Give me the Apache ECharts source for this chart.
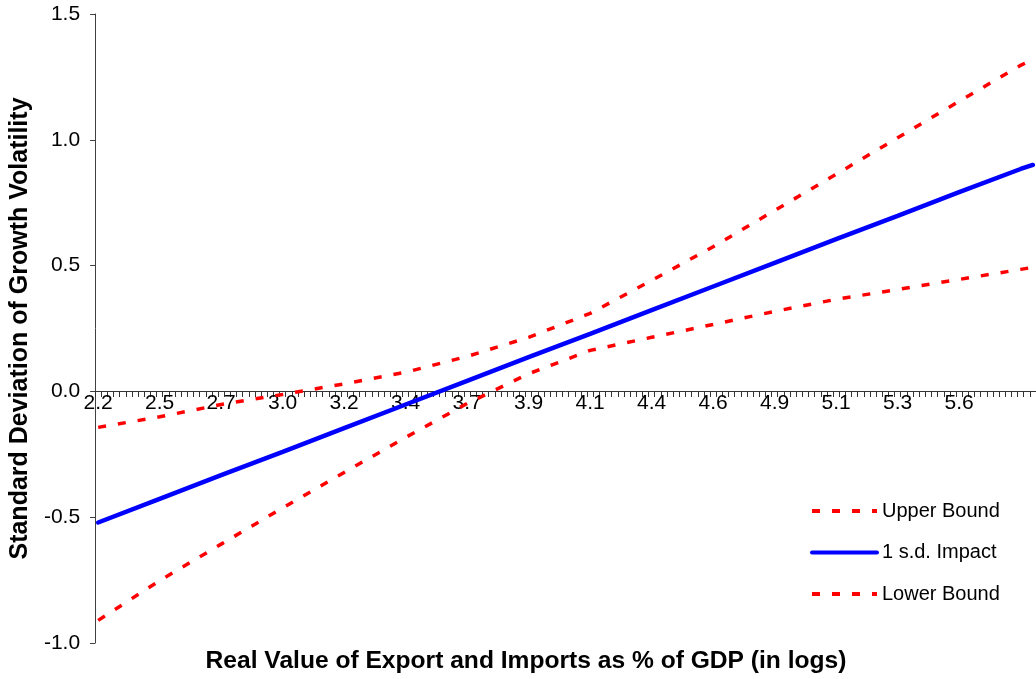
<!DOCTYPE html>
<html>
<head>
<meta charset="utf-8">
<script src="https://cdn.jsdelivr.net/npm/echarts@6/dist/echarts.min.js"></script>
<style>
  html, body { margin: 0; padding: 0; background: #fff; }
  #chart { width: 1036px; height: 679px; }
</style>
</head>
<body>
<div id="chart"></div>
<script>
// x axis: 153 categories, a label on every 10th one
var nCats = 153;
var tickLabels = ['2.2','2.5','2.7','3.0','3.2','3.4','3.7','3.9','4.1','4.4','4.6','4.9','5.1','5.3','5.6'];

// points (category index -> value)
var sampleIdx = [0, 10, 20, 30, 40, 50, 60, 70, 80, 90, 100, 110, 120, 130, 140, 150, 152];
var upperBound = [-0.143, -0.101, -0.052, -0.012, 0.030, 0.076, 0.139, 0.215, 0.310, 0.441, 0.575, 0.719, 0.863, 1.008, 1.153, 1.296, 1.320];
var impact     = [-0.521, -0.427, -0.333, -0.240, -0.146, -0.052, 0.042, 0.136, 0.229, 0.323, 0.417, 0.511, 0.605, 0.698, 0.792, 0.884, 0.900];
var lowerBound = [-0.910, -0.752, -0.607, -0.463, -0.322, -0.183, -0.048, 0.070, 0.163, 0.215, 0.266, 0.318, 0.366, 0.405, 0.445, 0.485, 0.493];

function pairs(vals) {
	var out = [];
	for (var i = 0; i < sampleIdx.length; i++) {
		out.push([sampleIdx[i], vals[i]]);
	}
	return out;
}

var categories = [];
for (var i = 0; i < nCats; i++) categories.push(String(i));

var myChart = echarts.init(document.getElementById('chart'));

var dashRed = { color: '#ff0000', width: 3.5, type: [8, 12] };

// plot area: y = 1.5 at 14px, y = -1.0 at 643px -> zero line at 391px
var gridTop = 14, gridH = 629;
var zeroOffset = -(gridTop + gridH - 391);

var option = {
	animation: false,
	textStyle: { fontFamily: 'Liberation Sans, Arial, sans-serif' },
	grid: { left: 94, top: gridTop, width: 955, height: gridH },
	legend: {
		orient: 'vertical',
		left: 805,
		top: 496,
		itemWidth: 65,
		itemHeight: 20,
		itemGap: 21.5,
		itemStyle: { opacity: 0 },
		lineStyle: { width: 4 },
		textStyle: { fontSize: 20, color: '#000' },
		data: ['Upper Bound', '1 s.d. Impact', 'Lower Bound']
	},
	xAxis: {
		type: 'category',
		data: categories,
		boundaryGap: true,
		position: 'bottom',
		offset: zeroOffset,
		axisLine: { show: true, onZero: false, lineStyle: { color: '#333', width: 1 } },
		axisTick: { show: true, interval: 0, length: 6, lineStyle: { color: '#333', width: 1 } },
		axisLabel: {
			interval: 9,
			margin: 2,
			fontSize: 21,
			color: '#000',
			formatter: function (value, index) {
				return tickLabels[index / 10] || '';
			}
		},
		splitLine: { show: false }
	},
	yAxis: {
		type: 'value',
		min: -1,
		max: 1.5,
		interval: 0.5,
		name: 'Standard Deviation of Growth Volatility',
		nameLocation: 'middle',
		nameRotate: 90,
		nameGap: 55,
		nameTextStyle: { fontSize: 25, fontWeight: 'bold', color: '#000' },
		axisLine: { show: true, lineStyle: { color: '#404040', width: 1 } },
		axisTick: { show: true, length: 5, lineStyle: { color: '#404040' } },
		axisLabel: {
			margin: 15,
			fontSize: 21,
			color: '#000',
			formatter: function (v) { return v.toFixed(1); }
		},
		splitLine: { show: false }
	},
	graphic: [{
		type: 'text',
		x: 526,
		y: 661,
		style: {
			text: 'Real Value of Export and Imports as % of GDP (in logs)',
			font: 'bold 24.6px "Liberation Sans", Arial, sans-serif',
			fill: '#000',
			textAlign: 'center',
			textVerticalAlign: 'middle'
		}
	}],
	series: [
		{
			name: 'Upper Bound',
			type: 'line',
			symbol: 'none',
			data: pairs(upperBound),
			lineStyle: dashRed,
			itemStyle: { color: '#ff0000' }
		},
		{
			name: '1 s.d. Impact',
			type: 'line',
			symbol: 'none',
			data: pairs(impact),
			lineStyle: { color: '#0000ff', width: 4.5, cap: 'round' },
			itemStyle: { color: '#0000ff' }
		},
		{
			name: 'Lower Bound',
			type: 'line',
			symbol: 'none',
			data: pairs(lowerBound),
			lineStyle: dashRed,
			itemStyle: { color: '#ff0000' }
		}
	]
};

myChart.setOption(option);
</script>
</body>
</html>
